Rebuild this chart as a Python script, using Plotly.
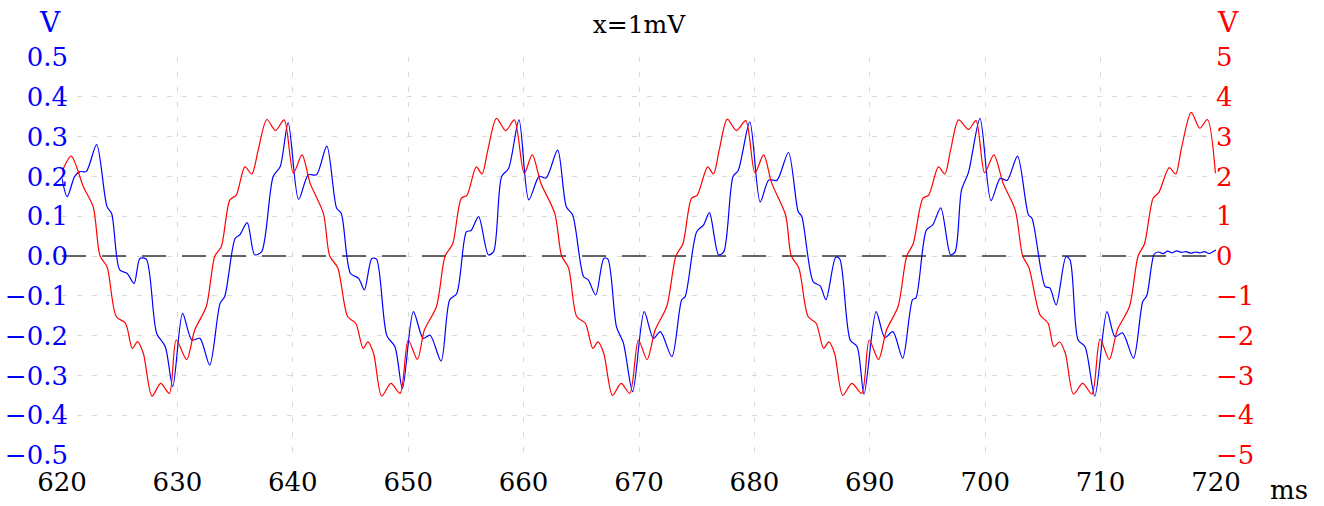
import plotly.graph_objects as go

# ---------------- data ----------------
red_t = [620.0, 620.8, 621.85, 622.7, 623.3, 623.9, 624.7, 625.5, 626.1, 626.55, 627.05, 627.8, 628.55, 629.3,
         629.9, 630.8, 631.5, 632.5, 633.25, 633.8, 634.55, 635.1, 635.85, 636.45, 637.0, 637.75, 638.5, 639.25,
         640.05, 640.8, 641.5, 642.65, 643.2, 643.9, 644.75, 645.45, 646.1, 646.5, 647.0, 647.7, 648.5, 649.3,
         650.0, 650.8, 651.4, 652.45, 653.2, 653.85, 654.6, 655.1, 655.9, 656.4, 656.9, 657.65, 658.45, 659.2,
         660.05, 660.75, 661.5, 662.7, 663.3, 663.9, 664.6, 665.35, 666.0, 666.45, 666.95, 667.7, 668.45, 669.2,
         669.95, 670.7, 671.4, 672.4, 673.2, 673.8, 674.55, 675.05, 675.95, 676.45, 676.95, 677.65, 678.45, 679.25,
         680.05, 680.8, 681.5, 682.7, 683.2, 683.85, 684.65, 685.35, 686.0, 686.45, 686.95, 687.65, 688.45, 689.3,
         689.95, 690.75, 691.45, 692.45, 693.2, 693.75, 694.6, 695.1, 695.95, 696.5, 697.0, 697.7, 698.55, 699.2,
         699.95, 700.75, 701.55, 702.6, 703.25, 703.8, 704.75, 705.45, 705.95, 706.45, 706.95, 707.65, 708.45, 709.25,
         709.95, 710.75, 711.45, 712.5, 713.25, 713.8, 714.55, 715.05, 715.95, 716.5, 717.0, 717.85, 718.6, 719.25,
         719.95]
red_v = [2.12, 2.51, 1.74, 1.24, 0.0, -0.27, -1.52, -1.69, -2.32, -2.15, -2.45, -3.52, -3.2, -3.45,
         -2.11, -2.6, -1.86, -1.27, 0.0, 0.23, 1.41, 1.53, 2.24, 2.06, 2.66, 3.43, 3.15, 3.42,
         2.08, 2.54, 1.83, 1.07, 0.0, -0.3, -1.52, -1.69, -2.32, -2.16, -2.45, -3.52, -3.2, -3.45,
         -2.11, -2.6, -1.86, -1.27, 0.0, 0.3, 1.45, 1.53, 2.24, 2.06, 2.66, 3.46, 3.15, 3.42,
         2.08, 2.54, 1.83, 1.07, 0.0, -0.3, -1.52, -1.69, -2.32, -2.16, -2.45, -3.5, -3.2, -3.45,
         -2.11, -2.6, -1.86, -1.27, 0.0, 0.3, 1.45, 1.53, 2.24, 2.06, 2.66, 3.44, 3.15, 3.4,
         2.09, 2.54, 1.83, 1.03, 0.0, -0.3, -1.52, -1.69, -2.32, -2.16, -2.45, -3.5, -3.2, -3.45,
         -2.11, -2.6, -1.86, -1.27, 0.0, 0.3, 1.45, 1.53, 2.24, 2.06, 2.66, 3.42, 3.18, 3.4,
         2.09, 2.54, 1.83, 1.16, 0.0, -0.3, -1.48, -1.69, -2.28, -2.16, -2.45, -3.47, -3.2, -3.47,
         -2.09, -2.6, -1.86, -1.27, 0.0, 0.3, 1.45, 1.6, 2.22, 2.06, 2.7, 3.61, 3.21, 3.43,
         2.08]

blue_t = [620.0, 620.45, 621.1, 621.55, 622.1, 623.0, 623.9, 624.3, 625.0, 625.65, 626.25, 626.75, 627.3,
          628.2, 628.95, 629.6, 630.45, 631.25, 631.95, 632.8, 633.7, 634.1, 635.0, 635.4, 636.05, 636.7, 637.3,
          638.3, 638.9, 639.6, 640.5, 641.35, 642.05, 642.95, 643.8, 644.2, 645.0, 645.7, 646.2, 646.85, 647.25,
          648.15, 648.85, 649.5, 650.45, 651.3, 651.9, 652.85, 653.6, 654.2, 655.05, 655.45, 656.1, 656.95, 657.4,
          658.1, 658.7, 659.6, 660.45, 661.35, 661.95, 662.95, 663.7, 664.25, 665.2, 665.6, 666.25, 666.95, 667.3,
          668.05, 668.65, 669.45, 670.45, 671.25, 671.85, 672.85, 673.7, 674.0, 675.0, 675.6, 676.1, 676.9, 677.35,
          678.15, 678.6, 679.6, 680.5, 681.25, 681.95, 682.95, 683.8, 684.1, 685.1, 685.7, 686.2, 687.05, 687.4,
          688.3, 688.9, 689.5, 690.55, 691.3, 692.0, 692.85, 693.7, 694.0, 694.9, 695.45, 696.15, 697.0, 697.4,
          697.95, 698.55, 699.55, 700.5, 701.3, 701.9, 702.8, 703.75, 704.05, 705.2, 705.6, 706.15, 707.0, 707.35,
          708.05, 708.65, 709.5, 710.55, 711.25, 711.9, 712.85, 713.65, 714.0, 714.65,
          715.0, 715.4, 715.8, 716.2, 716.6, 717.0, 717.4, 717.8, 718.2, 718.6, 719.0, 719.4, 719.8, 720.0]
blue_v = [0.195, 0.149, 0.2, 0.212, 0.212, 0.28, 0.124, 0.107, -0.035, -0.044, -0.069, -0.006, -0.008,
          -0.194, -0.228, -0.328, -0.144, -0.211, -0.207, -0.274, -0.119, -0.102, 0.044, 0.053, 0.084, 0.003, 0.011,
          0.2, 0.224, 0.335, 0.142, 0.204, 0.204, 0.276, 0.12, 0.107, -0.044, -0.056, -0.085, -0.006, -0.008,
          -0.2, -0.228, -0.333, -0.14, -0.207, -0.199, -0.264, -0.11, -0.095, 0.061, 0.064, 0.099, 0.003, 0.011,
          0.2, 0.22, 0.342, 0.141, 0.2, 0.196, 0.266, 0.124, 0.103, -0.052, -0.06, -0.098, -0.006, -0.008,
          -0.178, -0.219, -0.341, -0.14, -0.207, -0.19, -0.253, -0.11, -0.102, 0.061, 0.078, 0.109, 0.003, 0.011,
          0.2, 0.215, 0.337, 0.136, 0.191, 0.19, 0.26, 0.111, 0.1, -0.065, -0.075, -0.11, -0.003, -0.008,
          -0.211, -0.228, -0.347, -0.14, -0.205, -0.19, -0.257, -0.11, -0.105, 0.065, 0.078, 0.121, 0.003, 0.011,
          0.166, 0.21, 0.346, 0.139, 0.195, 0.19, 0.251, 0.103, 0.095, -0.077, -0.08, -0.123, -0.002, -0.01,
          -0.211, -0.228, -0.352, -0.14, -0.203, -0.193, -0.257, -0.115, -0.1, 0.005,
          0.010, 0.006, 0.012, 0.008, 0.013, 0.009, 0.011, 0.007, 0.010, 0.008, 0.011, 0.006, 0.012, 0.015]

x_ticks = [620, 630, 640, 650, 660, 670, 680, 690, 700, 710, 720]
left_ticks = [-0.5, -0.4, -0.3, -0.2, -0.1, 0.0, 0.1, 0.2, 0.3, 0.4, 0.5]
right_ticks = [-5, -4, -3, -2, -1, 0, 1, 2, 3, 4, 5]
zero_level = 0.0

title_text = "x=1mV"
left_unit = "V"
right_unit = "V"
x_unit = "ms"

# ---------------- styling ----------------
FONT = "DejaVu Serif"
BLUE = "#0000ff"
RED = "#ff0000"
GRID = "#d9d9d9"

fig = go.Figure()
fig.add_trace(go.Scatter(x=[x_ticks[0], x_ticks[-1]], y=[zero_level, zero_level], yaxis="y", mode="lines",
                         line=dict(color="#333333", width=1.5, dash="24px,16px"),
                         showlegend=False, hoverinfo="skip"))
fig.add_trace(go.Scatter(x=red_t, y=red_v, yaxis="y2", mode="lines",
                         line=dict(color=RED, width=1.2, shape="spline", smoothing=0.8),
                         showlegend=False, hoverinfo="skip"))
fig.add_trace(go.Scatter(x=blue_t, y=blue_v, yaxis="y", mode="lines",
                         line=dict(color=BLUE, width=1.2, shape="spline", smoothing=0.8),
                         showlegend=False, hoverinfo="skip"))

W, H = 1324, 506
L, R, T, B = 62, 108, 57, 51
PW, PH = W - L - R, H - T - B

fig.update_layout(
    width=W, height=H,
    margin=dict(l=L, r=R, t=T, b=B, pad=0, autoexpand=False),
    paper_bgcolor="white", plot_bgcolor="white",
    font=dict(family=FONT, size=26, color="black"),
    title=dict(text=title_text, x=(L + PW / 2) / W, xanchor="center",
               y=1 - 24 / H, yanchor="middle", yref="container",
               font=dict(family=FONT, size=25, color="black")),
    xaxis=dict(range=[620, 720], tickvals=x_ticks, showgrid=True, gridcolor=GRID,
               griddash="5px,10px", gridwidth=1, zeroline=False, showline=False, ticks="",
               automargin=False, ticklabelstandoff=9,
               tickfont=dict(family=FONT, size=26, color="black")),
    yaxis=dict(range=[-0.5, 0.5], tickvals=left_ticks, tickformat=".1f", showgrid=True,
               gridcolor=GRID, griddash="5px,10px", gridwidth=1, zeroline=False, showline=False,
               ticks="", automargin=False, ticklabelstandoff=-7,
               tickfont=dict(family=FONT, size=26, color=BLUE)),
    yaxis2=dict(range=[-5, 5], tickvals=right_ticks, overlaying="y", side="right", showgrid=False,
                zeroline=False, showline=False, ticks="", automargin=False, ticklabelstandoff=-1,
                tickfont=dict(family=FONT, size=26, color=RED)),
    annotations=[
        dict(text=left_unit, xref="paper", yref="paper", x=-12 / PW, y=1 + 35 / PH,
             xanchor="center", yanchor="middle", showarrow=False, font=dict(family=FONT, size=28, color=BLUE)),
        dict(text=right_unit, xref="paper", yref="paper", x=1 + 12 / PW, y=1 + 34 / PH,
             xanchor="center", yanchor="middle", showarrow=False, font=dict(family=FONT, size=28, color=RED)),
        dict(text=x_unit, xref="paper", yref="paper", x=1 + 73 / PW, y=-35 / PH,
             xanchor="center", yanchor="middle", showarrow=False, font=dict(family=FONT, size=26, color="black")),
    ],
)

fig.write_html("out.html", config={"displayModeBar": False},
               post_script="document.body.style.margin='0';document.body.style.overflow='hidden';")
